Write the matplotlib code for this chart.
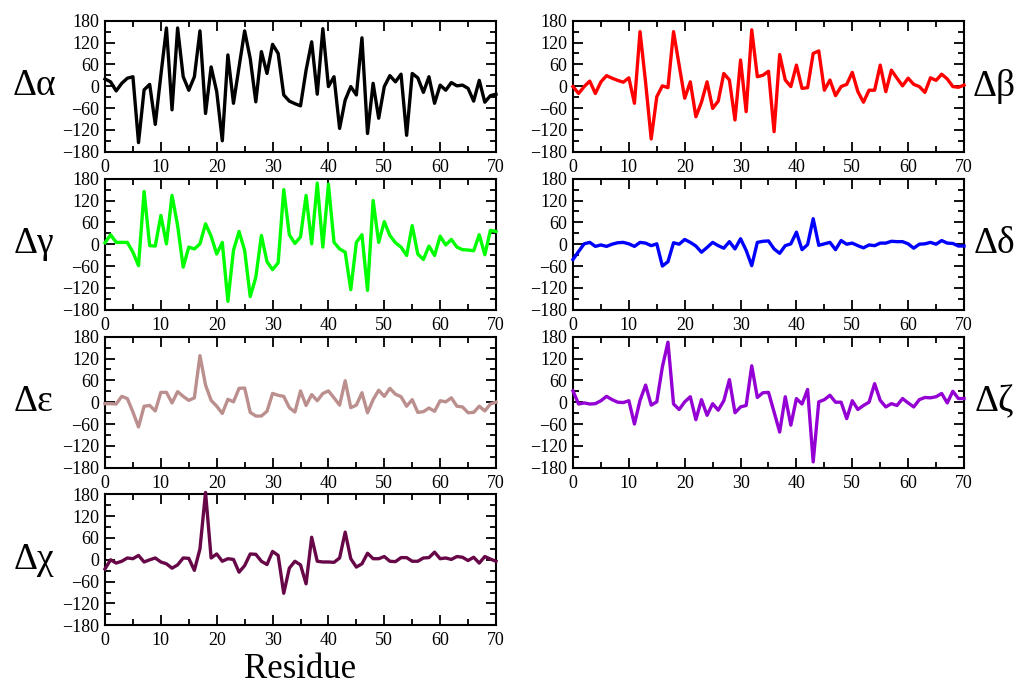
import matplotlib
matplotlib.use("Agg")
import matplotlib.pyplot as plt
from matplotlib.ticker import MultipleLocator

plt.rcParams['font.family'] = ['Liberation Serif', 'DejaVu Serif']

residues = list(range(71))

alpha = [20, 12, -13, 8, 22, 26, -155, -10, 5, -105, 30, 160, -65, 160, 26, -11, 26, 152,
         -75, 53, -15, -150, 86, -47, 53, 152, 76, -43, 95, 35, 115, 90, -24, -41, -48,
         -54, 44, 122, -22, 158, -1, 26, -116, -38, -1, -24, 133, -130, 8, -88, -1, 29,
         12, 33, -135, 35, 23, -17, 26, -47, 3, -11, 10, 1, 3, -6, -41, 16, -44, -26, -22]
beta = [-1, -20, -1, 14, -20, 12, 29, 22, 16, 11, 23, -47, 150, 10, -145, -29, 1, -4, 150,
        58, -33, 12, -84, -44, 12, -61, -41, 35, 17, -93, 72, -70, 155, 26, 30, 41, -125,
        87, 17, -1, 58, -6, -4, 90, 97, -11, 17, -26, -1, 5, 38, -15, -44, -11, -11, 58,
        -15, 44, 22, 1, 22, 5, -1, -17, 23, 16, 33, 20, -1, -3, 3]
gamma = [4, 26, 5, 5, 5, -22, -59, 145, -4, -5, 79, 1, 134, 51, -63, -8, -13, 1, 56, 22,
         -27, 5, -157, -17, 35, -17, -144, -91, 24, -48, -70, -51, 150, 26, 2, 20, 134, 1,
         168, -8, 165, 5, -13, -22, -125, 5, 26, -127, 120, 5, 62, 24, 4, -8, -31, 51, -27,
         -42, -5, -31, 22, -2, 13, -8, -15, -16, -18, 26, -29, 38, 35]
delta = [-42, -20, 1, 5, -6, -2, -6, 0, 4, 5, 1, -6, 5, 3, -4, 1, -60, -48, 4, 0, 13, 5,
         -5, -22, -9, 5, -4, -11, 7, -13, 15, -17, -59, 5, 8, 9, -13, -25, -4, 1, 33, -15,
         -1, 70, -3, 1, 5, -15, 10, 0, 3, -4, -10, -2, -4, 3, 3, 8, 7, 7, 1, -11, 0, 1, 5,
         0, 10, 3, 2, -5, -5]
epsilon = [-4, -4, -5, 16, 10, -27, -68, -11, -9, -24, 27, 27, -2, 29, 16, 5, 12, 128, 47,
           5, -11, -31, 8, 1, 38, 39, -28, -38, -38, -25, 24, 19, 16, -15, -27, 31, -9, 21,
           4, 24, 31, 12, -8, 59, -15, -8, 26, -29, 7, 33, 16, 38, 22, 15, -11, 7, -28, -26,
           -16, -25, 4, 1, 12, -11, -13, -29, -28, -11, -24, -5, 0]
zeta = [31, -5, -2, -5, -4, 4, 16, 7, 0, -1, 4, -60, 5, 47, -8, 1, 97, 165, -5, -20, 1, 15,
        -48, 7, -36, -4, -22, 4, 62, -29, -13, -9, 100, 13, 26, 27, -27, -82, 15, -63, 10,
        -5, 35, -164, 1, 7, 19, 0, 0, -45, 4, -20, -9, 0, 51, 5, -13, -4, -9, 10, -2, -13,
        7, 13, 12, 15, 24, -2, 30, 10, 10]
chi = [-25, 0, -9, -4, 5, 3, 12, -6, 0, 5, -6, -11, -23, -14, 5, 4, -29, 30, 185, 5, 16,
       -4, 3, 1, -34, -16, 16, 15, -4, -13, 23, 12, -92, -23, -4, -14, -66, 62, -4, -6, -6,
       -7, 5, 76, 3, -20, -11, 18, 3, 3, 9, -4, -5, 6, 6, -4, -4, 5, 6, 21, 3, 5, 1, 9, 7,
       -2, 7, -9, 9, 2, -4]

W, H = 1017, 685
col_left = [105, 573]
col_width = 391
row_top = [20.7, 178.7, 336.7, 494.3]
row_height = 131

# (label, values, colour, column, row)
panels = [
    ("\u0394\u03b1", alpha, "black", 0, 0),
    ("\u0394\u03b2", beta, "#ff0000", 1, 0),
    ("\u0394\u03b3", gamma, "#00ff00", 0, 1),
    ("\u0394\u03b4", delta, "#0000ff", 1, 1),
    ("\u0394\u03b5", epsilon, "#bc8f8f", 0, 2),
    ("\u0394\u03b6", zeta, "#9400d3", 1, 2),
    ("\u0394\u03c7", chi, "#670748", 0, 3),
]

fig = plt.figure(figsize=(W / 100, H / 100), dpi=100)

for label, values, colour, col, row in panels:
    left = col_left[col] / W
    bottom = 1 - (row_top[row] + row_height) / H
    ax = fig.add_axes([left, bottom, col_width / W, row_height / H])
    ax.plot(residues, values, color=colour, lw=2.4, clip_on=False, zorder=3)
    ax.set_xlim(0, 70)
    ax.set_ylim(-180, 180)
    ax.xaxis.set_major_locator(MultipleLocator(10))
    ax.xaxis.set_minor_locator(MultipleLocator(5))
    ax.yaxis.set_major_locator(MultipleLocator(60))
    ax.yaxis.set_minor_locator(MultipleLocator(30))
    ax.tick_params(which='both', direction='in', top=True, right=True,
                   labelsize=13, width=1.3, pad=4)
    ax.tick_params(axis='x', which='both', pad=5)
    ax.tick_params(which='major', length=7)
    ax.tick_params(which='minor', length=4)
    for sp in ax.spines.values():
        sp.set_linewidth(1.5)

    yc = 1 - (row_top[row] + row_height / 2) / H
    xl = 34 / W if col == 0 else 994 / W
    fig.text(xl, yc, label, fontsize=27, ha='center', va='center')

# axis title sits on its baseline just under the bottom tick labels
fig.text((105 + col_width / 2) / W, 1 - 678 / H, "Residue", fontsize=25,
         ha='center', va='baseline')

fig.savefig("out.png", dpi=100)
